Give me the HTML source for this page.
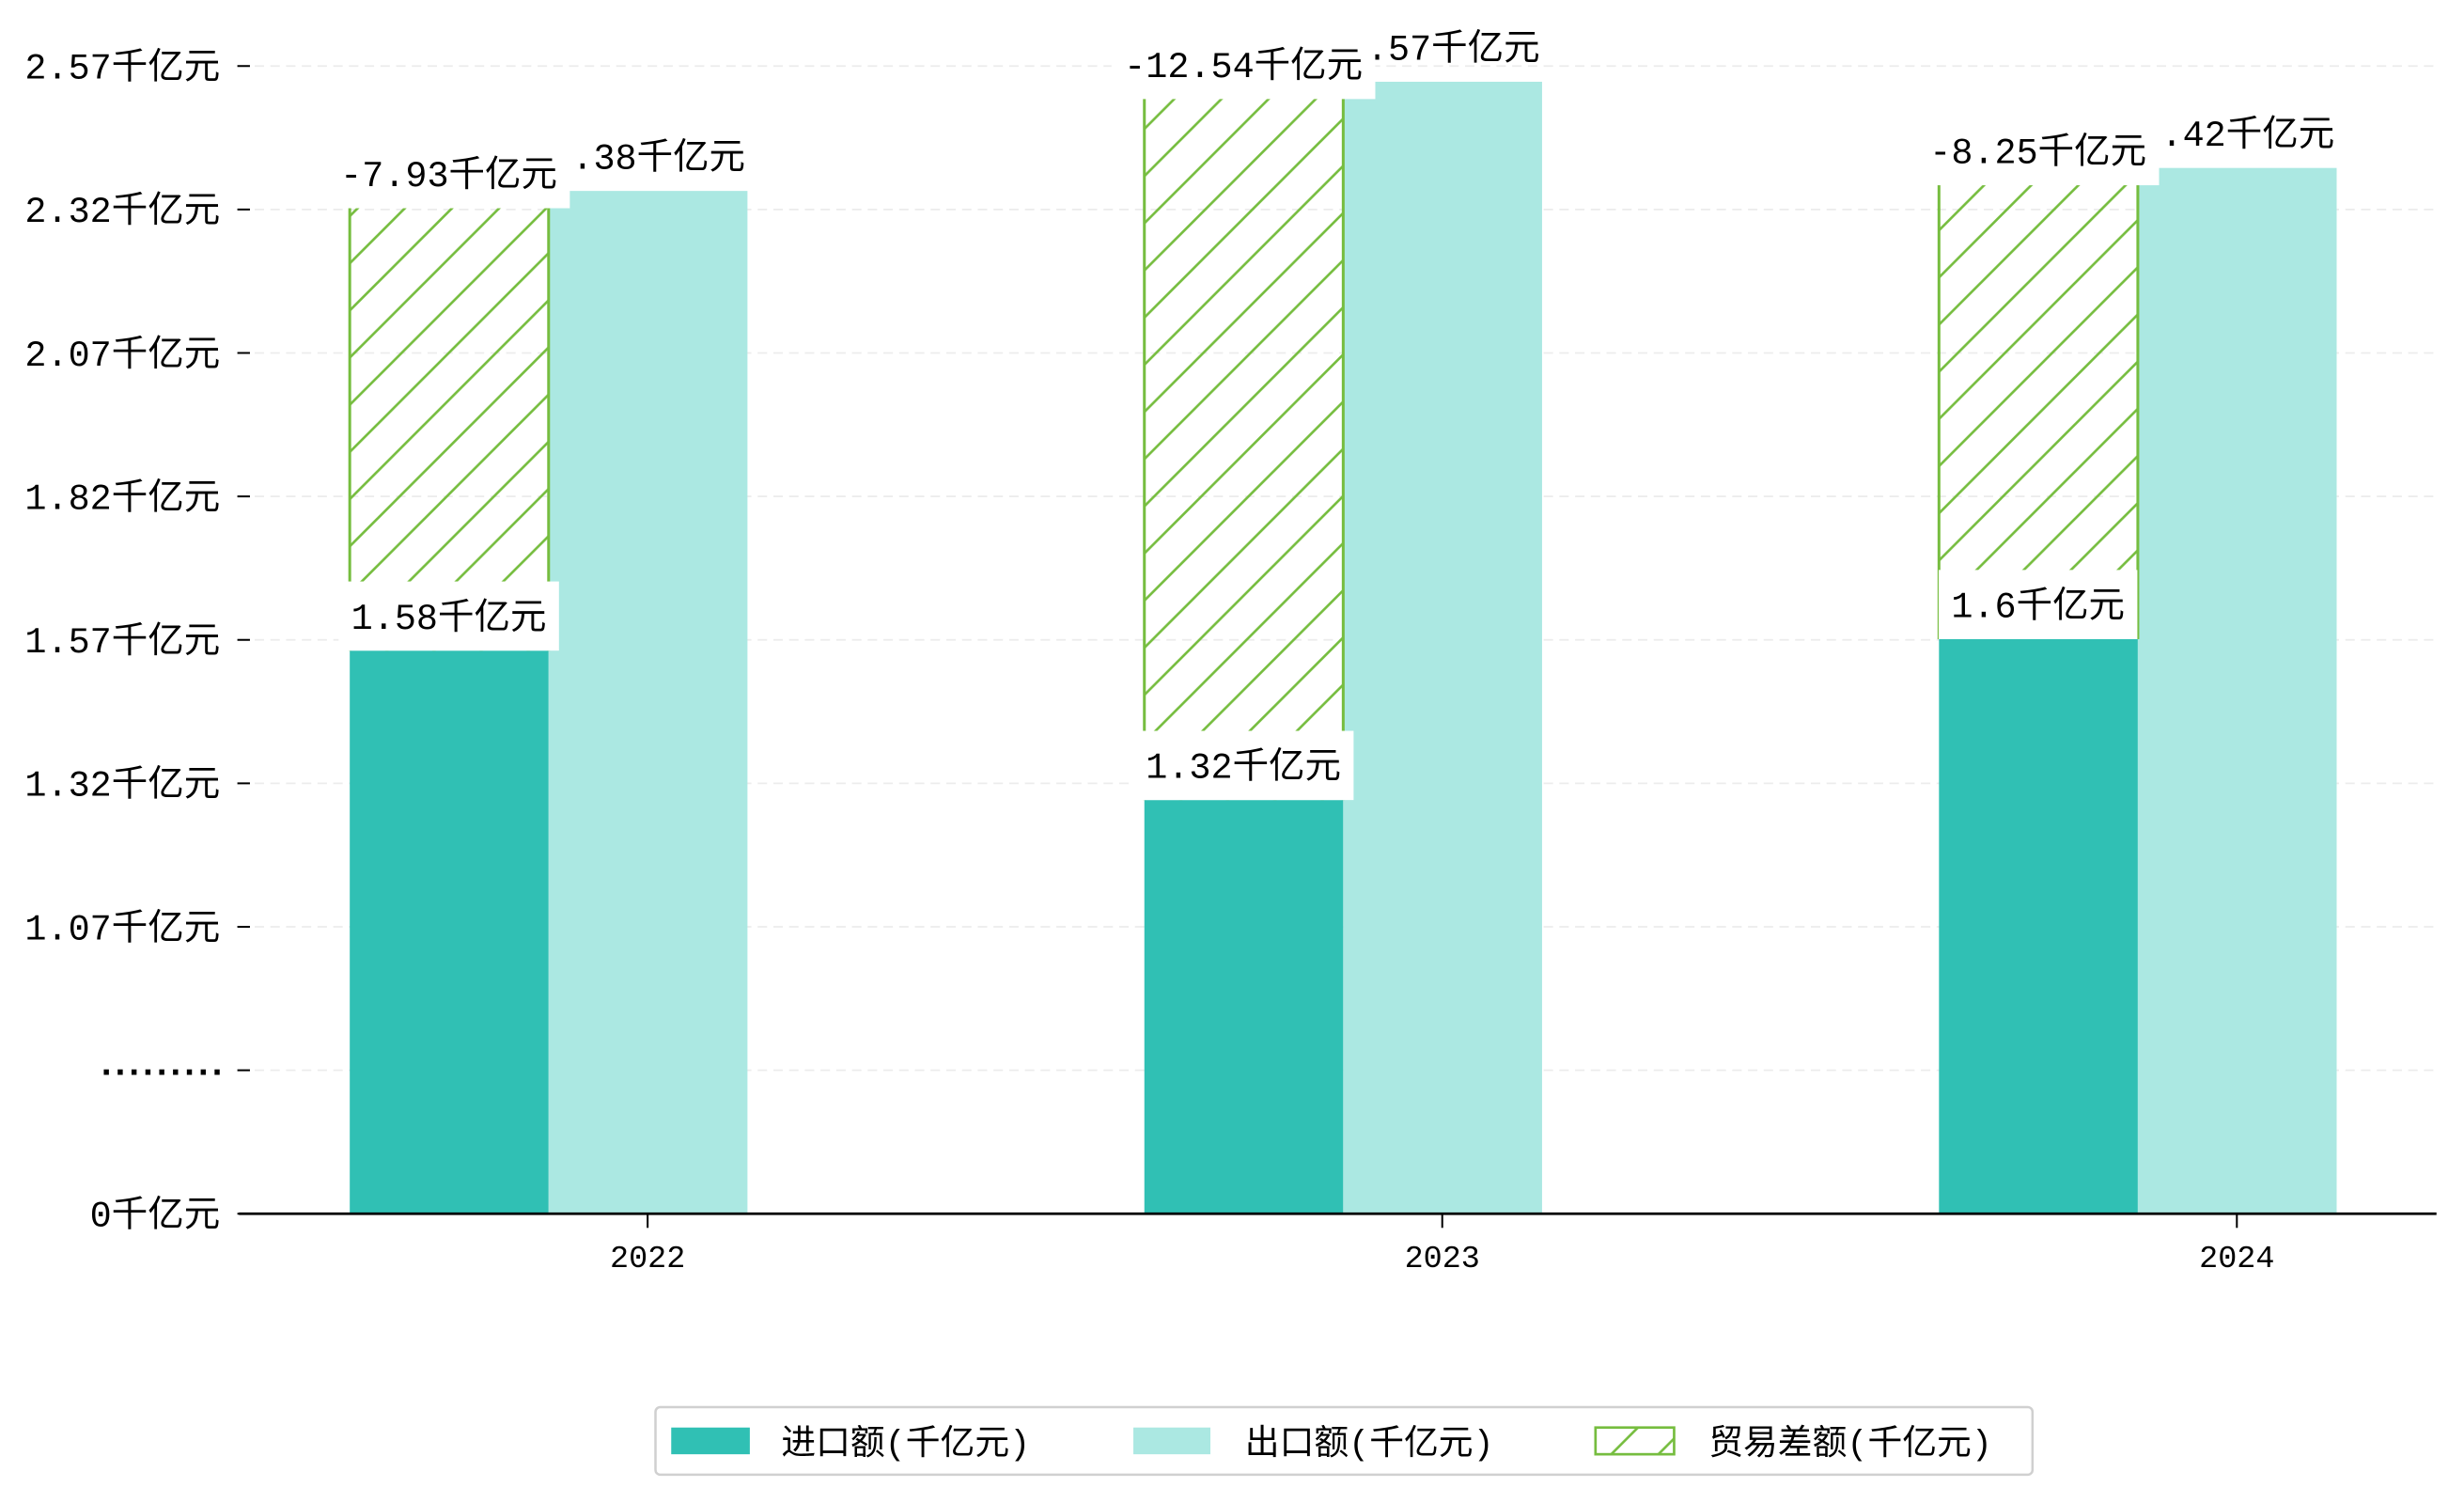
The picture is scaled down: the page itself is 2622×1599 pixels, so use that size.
<!DOCTYPE html>
<html><head><meta charset="utf-8"><style>
html,body{margin:0;padding:0;background:#fff;}
svg{display:block;}
text{font-family:"Liberation Mono","Noto Sans CJK SC",monospace;}
</style></head>
<body>
<svg id="chart" width="2622" height="1599" viewBox="0 0 1567.5 956" preserveAspectRatio="none" xmlns="http://www.w3.org/2000/svg">
<defs>
<pattern id="hatch" patternUnits="userSpaceOnUse" width="30" height="30">
<line x1="-2" y1="32" x2="32" y2="-2" stroke="#76bd3f" stroke-width="1.6"/>
<line x1="-17" y1="17" x2="17" y2="-17" stroke="#76bd3f" stroke-width="1.6"/>
<line x1="13" y1="47" x2="47" y2="13" stroke="#76bd3f" stroke-width="1.6"/>
</pattern>
</defs>
<g id="grid"></g><g id="bars"></g><g id="labels"></g><g id="axes"></g>
<g id="legend">
<rect x="417" y="895" width="876" height="43" rx="3" fill="#fff" stroke="#d0d0d0" stroke-width="1.5"/>
<rect x="427" y="908" width="50" height="17" fill="#30c0b4"/>
<text x="497" y="925" font-size="22">进口额(千亿元)</text>
<rect x="721" y="908" width="49" height="17" fill="#abe8e2"/>
<text x="792" y="925" font-size="22">出口额(千亿元)</text>
<rect x="1015" y="908" width="50" height="17" fill="url(#hatch)" stroke="#76bd3f" stroke-width="1.6"/>
<text x="1087" y="925" font-size="22">贸易差额(千亿元)</text>
</g>
</svg>
<script>
const categories = ['2022','2023','2024'];
const imports = [1.58, 1.32, 1.60];
const exports_ = [2.38, 2.57, 2.42];
const balances = [-7.93, -12.54, -8.25];
const tickLabels = ['0千亿元','.........','1.07千亿元','1.32千亿元','1.57千亿元','1.82千亿元','2.07千亿元','2.32千亿元','2.57千亿元'];

const NS='http://www.w3.org/2000/svg';
const X0=152, X1=1550, BASE=772, TOP=42;
function yScale(v){ return Math.min(BASE, 52 + (2.57 - v) * 365.5); }
function xCenter(i){ return 412 + i * 505.5; }
const BW = 126.5;
function mk(tag, attrs, parent){ const e=document.createElementNS(NS,tag); for(const k in attrs) e.setAttribute(k,attrs[k]); parent.appendChild(e); return e; }
const grid=document.getElementById('grid'), bars=document.getElementById('bars'), labels=document.getElementById('labels'), axes=document.getElementById('axes');
const step=(BASE-TOP)/(tickLabels.length-1);
tickLabels.forEach((t,i)=>{
  const y=BASE-i*step;
  if(i>0){ const g=mk('line',{x1:X0,x2:X1,y1:y,y2:y,stroke:'#ececec','stroke-width':1,'stroke-dasharray':'6,4'},grid);
      }
  const tk=mk('line',{x1:151,x2:159,y1:y,y2:y,stroke:'#000','stroke-width':1.2},axes);
   
  const tx=mk('text',{x:140,y:y+8,'font-size':23,'text-anchor':'end'},axes); tx.textContent=t;
  if(i===1){ tx.setAttribute('font-weight','bold'); tx.setAttribute('letter-spacing','-5'); tx.setAttribute('y',y+3); }
   
});
const lbl=(txt,cx,cy,bg,name)=>{
  const g=mk('g',{},labels);
   
  const r=bg?mk('rect',{fill:'#fff'},g):null;
  const t=mk('text',{x:cx,y:cy+8,'font-size':23,'text-anchor':'middle'},g); t.textContent=txt;
  if(r){ const w=t.getComputedTextLength()+16; r.setAttribute('x',cx-w/2); r.setAttribute('width',w); r.setAttribute('y',cy-22); r.setAttribute('height',44); }
};
categories.forEach((c,i)=>{
  const cx=xCenter(i), yi=yScale(imports[i]), ye=yScale(exports_[i]);
  const ib=mk('rect',{x:cx-189.5,y:yi,width:BW,height:BASE-yi,fill:'#30c0b4'},bars);
   
  const eb=mk('rect',{x:cx-63,y:ye,width:BW,height:BASE-ye,fill:'#abe8e2'},bars);
   
  const hb=mk('rect',{x:cx-189.5,y:ye,width:BW,height:yi-ye,fill:'url(#hatch)'},bars);
   
  const hl=mk('line',{x1:cx-189.5,x2:cx-189.5,y1:ye,y2:yi,stroke:'#76bd3f','stroke-width':1.8},bars);
   
  const hr=mk('line',{x1:cx-63,x2:cx-63,y1:ye,y2:yi,stroke:'#76bd3f','stroke-width':1.8},bars);
   
  const xt=mk('line',{x1:cx,x2:cx,y1:BASE,y2:BASE+9,stroke:'#000','stroke-width':1.2},axes);
   
  const xl=mk('text',{x:cx,y:BASE+34,'font-size':20,'text-anchor':'middle'},axes); xl.textContent=c;
   
});
categories.forEach((c,i)=>{
  const cx=xCenter(i), ye=yScale(exports_[i]);
  lbl(exports_[i].toFixed(2)+'千亿元', cx, ye-22, false, 'export-value-label');
});
categories.forEach((c,i)=>{
  const cx=xCenter(i), yi=yScale(imports[i]), ye=yScale(exports_[i]);
  lbl(String(imports[i])+'千亿元', cx-126.5, yi-22, true, 'import-value-label');
  lbl(String(balances[i])+'千亿元', cx-126.5, ye-11, true, 'balance-value-label');
});
const ax=mk('line',{x1:X0,x2:X1,y1:BASE,y2:BASE,stroke:'#000','stroke-width':1.6},axes);
 
</script>
</body></html>
